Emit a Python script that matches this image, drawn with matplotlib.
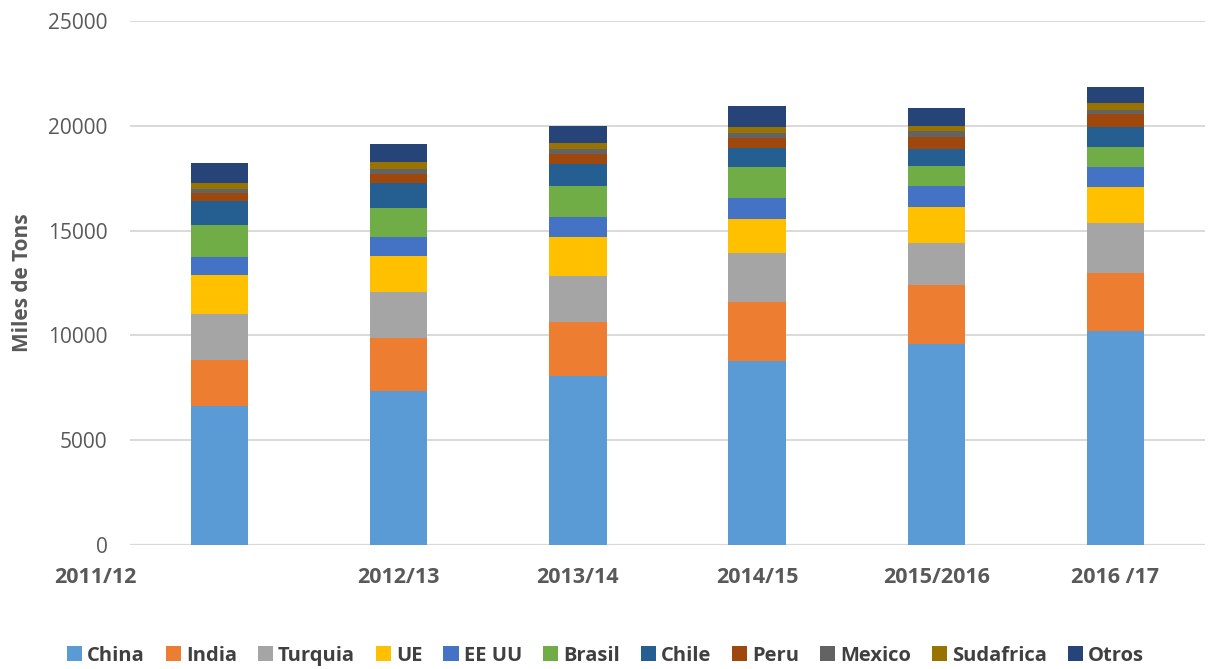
import numpy as np
import matplotlib
matplotlib.use('Agg')
import matplotlib.pyplot as plt
import matplotlib.transforms as mtransforms

# datos (miles de toneladas)
campanas = ['2011/12', '2012/13', '2013/14', '2014/15', '2015/2016', '2016 /17']
paises = ['China', 'India', 'Turquia', 'UE', 'EE UU', 'Brasil', 'Chile', 'Peru', 'Mexico', 'Sudafrica', 'Otros']

china = [6630, 7360, 8075, 8780, 9605, 10210]
india = [2195, 2515, 2580, 2830, 2815, 2780]
turquia = [2195, 2195, 2180, 2320, 1980, 2370]
ue = [1860, 1720, 1855, 1620, 1740, 1720]
ee_uu = [860, 900, 960, 1000, 990, 950]
brasil = [1530, 1390, 1470, 1480, 950, 960]
chile = [1140, 1180, 1070, 890, 810, 950]
peru = [370, 440, 460, 510, 570, 620]
mexico = [210, 240, 230, 220, 290, 190]
sudafrica = [270, 330, 300, 305, 250, 350]
otros = [960, 860, 810, 985, 850, 750]

series = [china, india, turquia, ue, ee_uu, brasil, chile, peru, mexico, sudafrica, otros]
colores = ['#5B9BD5', '#ED7D31', '#A5A5A5', '#FFC000', '#4472C4', '#70AD47',
           '#255E91', '#9E480E', '#636363', '#997300', '#264478']

FONT = ['Open Sans', 'DejaVu Sans']
GRIS = '#595959'

fig = plt.figure(figsize=(12.11, 6.69), dpi=100)
ax = fig.add_axes([0.1073, 0.1853, 0.8877, 0.7833])

x = np.arange(len(campanas))
base = np.zeros(len(campanas))
for nombre, vals, col in zip(paises, series, colores):
    ax.bar(x, vals, width=0.32, bottom=base, color=col, label=nombre, zorder=3)
    base += np.array(vals)

ax.set_xlim(-0.5, len(campanas) - 0.5)
ax.set_ylim(0, 25000)
ax.set_yticks(np.arange(0, 25001, 5000))
ax.grid(axis='y', color='#d9d9d9', linewidth=1.4, zorder=0)
for s in ax.spines.values():
    s.set_visible(False)
ax.axhline(0, color='#d9d9d9', linewidth=1.6, zorder=1)

ax.tick_params(axis='y', length=0, pad=16, labelsize=15, labelcolor=GRIS)
ax.tick_params(axis='x', length=0, pad=16, labelsize=15.5, labelcolor=GRIS)
for lab in ax.get_yticklabels():
    lab.set_family(FONT)

ax.set_xticks(x)
ax.set_xticklabels(campanas, fontweight='bold', family=FONT)
# la primera etiqueta aparece desplazada a la izquierda en el original
primera = ax.get_xticklabels()[0]
primera.set_transform(primera.get_transform() +
                      mtransforms.ScaledTranslation(-1.24, 0, fig.dpi_scale_trans))

ax.set_ylabel('Miles de Tons', fontsize=15, fontweight='bold', color=GRIS,
              family=FONT)
ax.yaxis.set_label_coords(-0.09, 0.5)

fig.legend(loc='center', bbox_to_anchor=(0.5, 0.02), ncol=11, frameon=False,
           handlelength=0.75, handleheight=0.75, handletextpad=0.25, columnspacing=1.04,
           prop={'family': FONT, 'weight': 'bold', 'size': 14.5}, labelcolor='#404040')

fig.savefig('out.png', dpi=100)
